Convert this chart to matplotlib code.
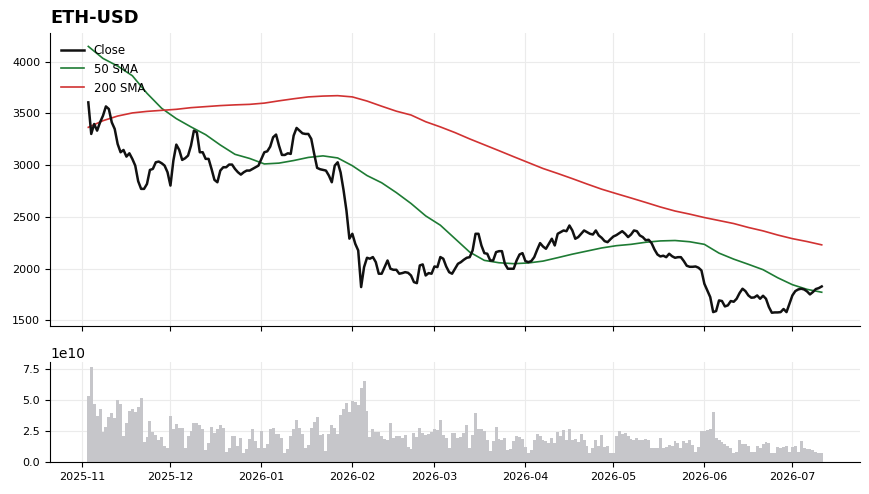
import matplotlib
matplotlib.use("Agg")
import matplotlib.pyplot as plt
import matplotlib.dates as mdates
import pandas as pd

DATES = pd.date_range("2025-11-03", periods=251, freq="D")

CLOSE = [
    3607, 3302, 3398, 3334, 3414, 3478, 3568, 3543, 3414, 3350,
    3205, 3125, 3147, 3083, 3115, 3061, 2996, 2845, 2771, 2771,
    2819, 2954, 2964, 3028, 3035, 3019, 2996, 2932, 2803, 3045,
    3199, 3147, 3051, 3067, 3093, 3189, 3334, 3318, 3125, 3125,
    3061, 3061, 2964, 2858, 2835, 2948, 2980, 2980, 3006, 3006,
    2964, 2932, 2909, 2932, 2948, 2948, 2964, 2980, 2996, 3061,
    3125, 3134, 3179, 3270, 3296, 3189, 3099, 3099, 3115, 3109,
    3286, 3360, 3334, 3308, 3302, 3302, 3254, 3109, 2974, 2961,
    2954, 2948, 2900, 2835, 2996, 3028, 2930, 2760, 2560, 2290,
    2337, 2240, 2176, 1822, 2015, 2105, 2096, 2112, 2063, 1951,
    1951, 2015, 2079, 1999, 1989, 1989, 1951, 1957, 1966, 1960,
    1934, 1870, 1860, 2031, 2041, 1934, 1957, 1951, 2021, 2015,
    2112, 2096, 2021, 1966, 1951, 1999, 2047, 2063, 2086, 2105,
    2111, 2176, 2337, 2337, 2224, 2150, 2144, 2079, 2079, 2160,
    2169, 2169, 2047, 1999, 1999, 1999, 2079, 2137, 2150, 2073,
    2063, 2073, 2111, 2182, 2247, 2214, 2192, 2240, 2289, 2224,
    2337, 2353, 2369, 2362, 2417, 2369, 2289, 2305, 2337, 2369,
    2353, 2337, 2330, 2369, 2321, 2298, 2266, 2256, 2285, 2311,
    2324, 2343, 2362, 2337, 2305, 2330, 2369, 2362, 2321, 2305,
    2275, 2279, 2247, 2185, 2137, 2118, 2125, 2111, 2144, 2120,
    2105, 2111, 2111, 2073, 2028, 2018, 2018, 2021, 2009, 1983,
    1854, 1790, 1725, 1580, 1590, 1693, 1687, 1635, 1645, 1687,
    1680, 1709, 1764, 1806, 1783, 1741, 1719, 1722, 1741, 1709,
    1738, 1709, 1629, 1574, 1577, 1577, 1580, 1610, 1580, 1661,
    1741, 1783, 1799, 1806, 1799, 1780, 1751, 1774, 1803, 1812, 1828,
]

# moving averages read every 5th day
SMA50 = [
    4148, 4032, 3958, 3865, 3695, 3550, 3450, 3370, 3295, 3195,
    3105, 3065, 3012, 3020, 3045, 3075, 3090, 3070, 2995, 2900,
    2830, 2735, 2630, 2510, 2420, 2290, 2160, 2080, 2057, 2048,
    2055, 2073, 2106, 2140, 2170, 2200, 2222, 2235, 2255, 2268,
    2272, 2260, 2235, 2150, 2092, 2042, 1990, 1912, 1845, 1800, 1772,
]
SMA200 = [
    3366, 3430, 3475, 3505, 3520, 3530, 3540, 3556, 3566, 3576,
    3583, 3588, 3600, 3622, 3642, 3660, 3668, 3672, 3660, 3620,
    3570, 3522, 3485, 3420, 3370, 3315, 3254, 3197, 3140, 3082,
    3025, 2968, 2920, 2870, 2818, 2768, 2725, 2683, 2640, 2596,
    2557, 2527, 2494, 2465, 2436, 2398, 2365, 2325, 2290, 2262, 2230,
]

# volume in units of 1e10
VOLUME = [
    5.32, 7.64, 4.69, 3.72, 4.27, 2.40, 2.84, 3.58, 3.94, 3.50,
    4.96, 4.69, 2.07, 3.11, 4.13, 4.22, 4.05, 4.41, 5.15, 1.57,
    2.01, 3.31, 2.40, 2.20, 1.79, 2.01, 1.30, 1.10, 3.67, 2.67,
    3.03, 2.76, 2.76, 1.10, 2.07, 2.48, 3.17, 3.11, 2.95, 2.62,
    0.96, 1.52, 2.84, 2.34, 2.67, 2.95, 2.76, 0.83, 1.10, 2.07,
    2.07, 1.30, 1.93, 0.69, 1.02, 1.85, 2.62, 1.65, 1.10, 2.48,
    1.10, 1.46, 2.67, 2.76, 2.29, 2.26, 1.93, 0.69, 1.02, 2.07,
    2.67, 3.36, 2.76, 2.29, 1.10, 1.38, 2.76, 3.22, 3.58, 2.20,
    2.29, 0.91, 2.29, 2.95, 2.76, 2.26, 3.78, 4.22, 4.77, 4.05,
    4.88, 4.82, 4.55, 5.98, 6.53, 4.13, 2.01, 2.67, 2.40, 2.40,
    2.07, 1.85, 1.74, 3.11, 1.93, 2.12, 2.07, 1.93, 2.20, 1.19,
    1.02, 2.34, 2.01, 2.76, 2.34, 2.20, 2.29, 2.40, 2.62, 2.54,
    3.36, 2.20, 1.93, 1.10, 2.34, 2.34, 1.93, 2.01, 2.34, 2.95,
    1.10, 2.20, 3.94, 2.67, 2.62, 2.48, 1.79, 0.91, 1.65, 2.84,
    1.85, 1.79, 1.93, 0.96, 1.02, 1.65, 2.12, 2.01, 1.85, 1.19,
    0.69, 0.96, 1.74, 2.29, 2.07, 1.79, 1.65, 1.52, 1.93, 1.52,
    2.40, 2.07, 2.56, 1.79, 2.62, 1.74, 1.85, 1.57, 2.29, 1.74,
    1.30, 0.69, 1.10, 1.79, 1.30, 2.20, 1.19, 1.30, 0.69, 0.69,
    2.07, 2.48, 2.29, 2.34, 2.07, 1.85, 1.79, 1.93, 1.79, 1.79,
    1.85, 1.79, 1.10, 1.10, 1.10, 1.93, 1.10, 1.19, 1.38, 1.30,
    1.65, 1.52, 1.10, 1.65, 1.52, 1.74, 1.38, 0.83, 1.24, 2.48,
    2.48, 2.56, 2.67, 4.00, 1.93, 1.74, 1.57, 1.46, 1.30, 1.10,
    0.69, 0.83, 1.79, 1.46, 1.46, 1.30, 0.83, 0.83, 1.30, 1.10,
    1.46, 1.57, 1.52, 0.69, 0.69, 1.19, 1.10, 1.19, 1.30, 0.83,
    1.19, 1.30, 0.83, 1.65, 1.10, 1.02, 1.02, 0.96, 0.83, 0.69, 0.69,
]

GRID = "#ebebeb"


def style(ax):
    for sp in ("top", "right"):
        ax.spines[sp].set_visible(False)
    ax.grid(True, color=GRID, lw=0.8)
    ax.set_axisbelow(True)
    ax.tick_params(labelsize=8, length=3.5)


fig = plt.figure(figsize=(8.7, 4.94), dpi=100)
ax = fig.add_axes([0.0575, 0.340, 0.931, 0.593])
axv = fig.add_axes([0.0575, 0.0648, 0.931, 0.202], sharex=ax)

ax.plot(DATES, CLOSE, color="#111111", lw=1.8, label="Close", zorder=3)
ax.plot(DATES[::5], SMA50, color="#1e7b34", lw=1.2, label="50 SMA", zorder=2)
ax.plot(DATES[::5], SMA200, color="#d13232", lw=1.2, label="200 SMA", zorder=2)
style(ax)
ax.tick_params(labelbottom=False)
ax.set_title("ETH-USD", loc="left", fontsize=12.8, fontweight="bold", pad=7)
ax.legend(loc="upper left", frameon=False, fontsize=8.5)

axv.bar(DATES, [v * 1e10 for v in VOLUME], width=1.0, color="#c6c6ca", linewidth=0)
style(axv)
axv.yaxis.get_offset_text().set_fontsize(10)
axv.xaxis.set_major_locator(mdates.MonthLocator())
axv.xaxis.set_major_formatter(mdates.DateFormatter("%Y-%m"))

fig.savefig("out.png", dpi=100, facecolor="white")
